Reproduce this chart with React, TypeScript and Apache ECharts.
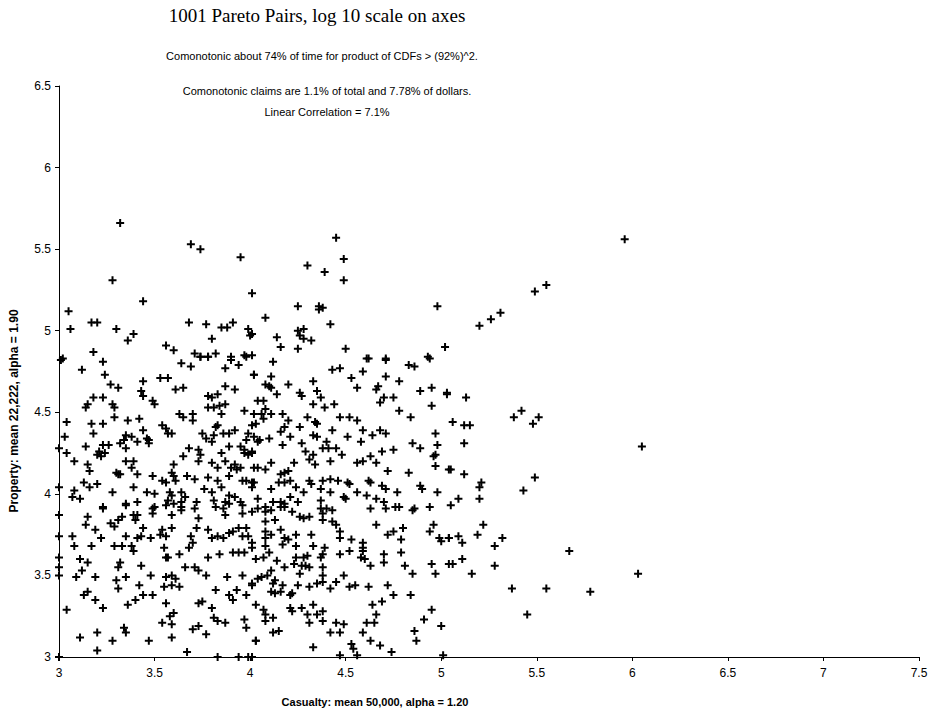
import React, { useEffect, useRef } from "react";
import * as echarts from "echarts";

// Casualty (x) vs Property (y), log10 values
const upperPoints: number[][] = [
  [3.32,5.66],[3.69,5.53],[3.74,5.50],[3.95,5.45],[3.28,5.31],[4.01,5.23],[3.44,5.18],[3.05,5.12],[3.06,5.01],[3.17,5.05],[3.20,5.05],[3.30,5.01],[3.36,4.94],[3.39,4.98],[3.68,5.05],[3.77,5.04],[3.85,5.02],[3.88,5.02],[3.91,5.05],[3.80,4.95],[3.99,5.01],[4.00,4.97],[4.01,4.98],[3.56,4.91],[3.60,4.88],[3.18,4.87],[3.02,4.83],[3.71,4.86],[3.74,4.84],[3.78,4.84],[3.82,4.86],[3.90,4.84],[3.97,4.85],[4.01,4.85],
  [4.45,5.57],[4.49,5.44],[4.30,5.40],[4.39,5.36],[4.49,5.31],[4.25,5.15],[4.36,5.15],[4.38,5.14],[4.36,5.13],[4.98,5.15],[4.08,5.08],[4.42,5.04],[4.25,5.00],[4.28,5.01],[4.26,4.97],[4.28,4.95],[4.32,4.94],[4.14,4.96],[4.16,4.90],[4.25,4.89],[4.50,4.89],[4.62,4.83],[4.71,4.83],[4.93,4.84],[5.02,4.90],
  [5.96,5.56],[5.55,5.28],[5.49,5.24],[5.31,5.11],[5.26,5.07],[5.20,5.03]
];

const rightPoints: number[][] = [
  [5.03,4.61],[5.13,4.59],[5.06,4.44],[5.12,4.42],[5.15,4.42],[5.38,4.47],[5.42,4.51],[5.48,4.43],[5.51,4.47],[5.12,4.31],[6.05,4.29],[5.05,4.15],[5.12,4.12],[5.21,4.07],[5.20,4.04],[5.49,4.10],[5.43,4.02],[5.09,3.97],[5.05,3.93],[5.20,3.97],
  [5.22,3.81],[5.19,3.75],[5.04,3.73],[5.09,3.74],[5.11,3.70],[5.32,3.73],[5.28,3.68],[5.06,3.57],[5.11,3.60],[5.28,3.56],[5.16,3.51],[5.67,3.65],[6.03,3.51],[5.37,3.42],[5.55,3.42],[5.78,3.40],[5.45,3.26]
];

const midLeftPoints: number[][] = [
  [3.01,4.82],[3.23,4.81],[3.64,4.80],[3.69,4.78],[3.74,4.84],[3.78,4.84],[3.90,4.82],[3.94,4.79],[3.98,4.84],[4.02,4.73],[3.87,4.77],[3.12,4.76],[3.24,4.73],[3.44,4.69],[3.53,4.71],[3.57,4.71],[3.27,4.67],[3.31,4.65],[3.61,4.64],[3.65,4.65],[3.87,4.66],[3.92,4.64],
  [3.18,4.59],[3.23,4.59],[3.43,4.63],[3.44,4.60],[3.49,4.57],[3.50,4.55],[3.78,4.60],[3.80,4.59],[3.83,4.61],[3.28,4.55],[3.29,4.53],[3.15,4.55],[3.14,4.53],[3.78,4.53],[3.81,4.53],[3.84,4.54],[3.87,4.55],[3.85,4.49],[3.97,4.51],[3.29,4.47],[3.63,4.49],[3.65,4.47],[3.70,4.49],[3.70,4.45],
  [3.04,4.44],[3.17,4.43],[3.23,4.43],[3.36,4.45],[3.42,4.46],[3.44,4.39],[3.54,4.42],[3.56,4.40],[3.57,4.37],[3.59,4.37],[3.82,4.41],[3.83,4.42],[3.86,4.37],[3.89,4.37],[3.92,4.39],[4.01,4.42],[3.81,4.36],
  [3.18,4.37],[3.03,4.35],[3.35,4.36],[3.38,4.35],[3.34,4.33],[3.32,4.31],[3.35,4.28],[3.41,4.32],[3.46,4.34],[3.47,4.33],[3.47,4.31],[3.75,4.37],[3.77,4.34],[3.80,4.32],[3.99,4.37],[3.98,4.33],[3.95,4.29],[3.97,4.27],[3.97,4.25],[4.01,4.26],
  [3.00,4.28],[3.04,4.25],[3.14,4.29],[3.21,4.26],[3.23,4.30],[3.26,4.30],[3.24,4.25],[3.20,4.24],[3.22,4.23],[3.68,4.28],[3.73,4.27],[3.74,4.24],[3.73,4.20],[3.65,4.23],[3.85,4.25],[3.89,4.29],
  [3.08,4.20],[3.15,4.18],[3.16,4.14],[3.35,4.20],[3.39,4.20],[3.38,4.16],[3.41,4.12],[3.60,4.18],[3.59,4.13],[3.60,4.11],[3.80,4.19],[3.83,4.16],[3.87,4.20],[3.90,4.16],[3.92,4.18],[3.95,4.16],[3.93,4.15],[4.02,4.16],[3.99,4.24],
  [3.30,4.13],[3.31,4.12],[3.32,4.12],[3.49,4.11],[3.54,4.08],[3.56,4.07],[3.61,4.08],[3.67,4.11],[3.71,4.09],[3.78,4.10],[3.83,4.08],[3.89,4.11],[3.96,4.08],[3.98,4.08],[4.01,4.07],
  [3.00,4.04],[3.08,4.02],[3.13,4.07],[3.16,4.04],[3.20,4.06],[3.28,4.01],[3.39,4.04],[3.46,4.01],[3.50,4.00],[3.58,4.01],[3.59,3.99],[3.64,4.01],[3.66,3.98],[3.76,4.03],[3.80,4.01],[3.85,4.04],[3.89,3.99],[3.92,3.98],
  [3.07,3.98],[3.11,3.97],[3.23,3.92],[3.35,3.94],[3.41,3.95],[3.49,3.91],[3.57,3.96],[3.60,3.94],[3.64,3.95],[3.64,3.92],[3.72,3.95],[3.81,3.96],[3.87,3.95],[3.89,3.94],[3.95,3.95],[3.96,3.93],[3.86,3.91]
];

const midRightPoints: number[][] = [
  [4.02,4.73],[4.12,4.81],[4.08,4.67],[4.10,4.66],[4.11,4.72],[4.11,4.65],[4.20,4.67],[4.26,4.62],[4.27,4.60],[4.14,4.61],[4.33,4.69],[4.35,4.63],[4.37,4.59],[4.33,4.55],[4.39,4.53],[4.44,4.55],[4.43,4.76],[4.47,4.77],[4.59,4.75],[4.53,4.71],[4.56,4.65],[4.61,4.83],[4.71,4.82],[4.83,4.79],[4.86,4.78],[4.94,4.83],[4.71,4.72],[4.67,4.66],[4.66,4.64],[4.70,4.59],[4.68,4.56],[4.75,4.59],[4.78,4.69],[4.89,4.63],[4.95,4.65],[5.03,4.62],[4.95,4.54],[4.78,4.51],[4.84,4.47],
  [4.04,4.57],[4.07,4.57],[4.08,4.52],[4.02,4.49],[4.06,4.49],[4.07,4.46],[4.11,4.49],[4.03,4.43],[4.17,4.49],[4.20,4.45],[4.18,4.41],[4.26,4.41],[4.30,4.47],[4.34,4.44],[4.35,4.43],[4.16,4.38],[4.21,4.35],[4.33,4.36],[4.35,4.35],[4.43,4.39],[4.47,4.47],[4.52,4.47],[4.56,4.45],[4.59,4.39],[4.64,4.36],[4.68,4.39],[4.71,4.37],[4.51,4.35],
  [4.02,4.35],[4.05,4.33],[4.04,4.32],[4.10,4.34],[4.17,4.30],[4.27,4.31],[4.40,4.32],[4.41,4.28],[4.38,4.28],[4.45,4.28],[4.48,4.24],[4.29,4.26],[4.58,4.32],[4.59,4.20],[4.56,4.19],[4.63,4.23],[4.66,4.19],[4.69,4.26],[4.75,4.27],[4.72,4.14],[4.85,4.31],[4.89,4.28],[4.97,4.37],[4.98,4.30],[4.97,4.24],[4.96,4.23],[4.97,4.17],
  [4.01,4.25],[4.04,4.16],[4.08,4.15],[4.11,4.19],[4.16,4.12],[4.18,4.13],[4.20,4.14],[4.23,4.19],[4.31,4.21],[4.33,4.24],[4.34,4.18],[4.42,4.20],
  [4.02,4.07],[4.01,4.04],[4.15,4.07],[4.18,4.07],[4.21,4.08],[4.24,4.04],[4.28,4.01],[4.31,4.08],[4.32,4.06],[4.37,4.03],[4.38,4.08],[4.42,4.09],[4.46,4.08],[4.51,4.07],[4.52,4.06],[4.63,4.07],[4.62,4.08],[4.69,4.05],[4.71,4.03],[4.77,4.01],[4.83,4.13],[4.89,4.05],[4.90,4.03],[4.98,4.01],[4.11,4.03],
  [4.04,3.97],[4.08,3.92],[4.12,3.95],[4.16,3.95],[4.18,3.94],[4.21,3.98],[4.25,3.95],[4.37,3.96],[4.42,4.01],[4.49,3.98],[4.50,3.97],[4.56,4.01],[4.61,3.99],[4.66,3.97],[4.70,3.95],[4.78,3.92],[4.86,3.91],[4.94,3.92],[5.04,4.15]
];

const lowLeftPoints: number[][] = [
  [3.00,3.87],[3.00,3.74],[3.00,3.61],[3.00,3.55],[3.00,3.50],[3.00,3.00],
  [3.15,3.86],[3.14,3.81],[3.19,3.78],[3.23,3.91],[3.27,3.82],[3.29,3.80],[3.31,3.84],[3.33,3.86],[3.35,3.93],[3.39,3.87],[3.40,3.84],[3.44,3.79],[3.41,3.87],[3.49,3.88],[3.50,3.92],[3.56,3.93],[3.59,3.87],[3.64,3.90],[3.71,3.91],[3.73,3.85],[3.72,3.79],[3.82,3.92],[3.87,3.87],[3.96,3.88],[3.94,3.79],[4.01,3.89],
  [3.07,3.74],[3.08,3.68],[3.17,3.68],[3.22,3.73],[3.29,3.68],[3.33,3.68],[3.35,3.74],[3.38,3.68],[3.39,3.65],[3.41,3.73],[3.43,3.74],[3.48,3.73],[3.54,3.78],[3.53,3.75],[3.56,3.74],[3.55,3.67],[3.59,3.79],[3.69,3.74],[3.70,3.70],[3.68,3.67],[3.78,3.78],[3.80,3.73],[3.83,3.74],[3.86,3.73],[3.89,3.76],[3.91,3.77],[3.96,3.74],[3.99,3.74],[3.98,3.79],[4.01,3.67],
  [3.11,3.60],[3.12,3.53],[3.15,3.58],[3.19,3.49],[3.09,3.49],[3.31,3.55],[3.32,3.58],[3.35,3.49],[3.30,3.47],[3.31,3.42],[3.43,3.56],[3.48,3.50],[3.56,3.61],[3.57,3.61],[3.63,3.63],[3.56,3.49],[3.59,3.50],[3.61,3.48],[3.55,3.43],[3.59,3.44],[3.63,3.43],[3.66,3.55],[3.71,3.55],[3.73,3.53],[3.77,3.50],[3.78,3.61],[3.84,3.63],[3.91,3.64],[3.94,3.64],[3.97,3.64],[3.88,3.49],[3.96,3.50],[4.01,3.44],
  [3.13,3.38],[3.15,3.40],[3.19,3.35],[3.23,3.30],[3.04,3.29],[3.36,3.32],[3.40,3.35],[3.42,3.44],[3.44,3.38],[3.49,3.38],[3.56,3.33],[3.60,3.27],[3.58,3.25],[3.54,3.21],[3.59,3.20],[3.73,3.33],[3.75,3.34],[3.80,3.30],[3.81,3.24],[3.83,3.22],[3.87,3.21],[3.82,3.41],[3.89,3.38],[3.91,3.35],[3.93,3.41],[3.98,3.38],[3.97,3.23],[3.98,3.18],[4.03,3.10],
  [3.11,3.12],[3.20,3.15],[3.20,3.04],[3.28,3.10],[3.34,3.18],[3.35,3.15],[3.47,3.10],[3.59,3.12],[3.67,3.03],[3.70,3.17],[3.73,3.19],[3.77,3.14],[3.83,3.00],[3.94,3.00],[3.99,3.00]
];

const lowRightPoints: number[][] = [
  [4.04,3.91],[4.08,3.89],[4.11,3.90],[4.16,3.92],[4.18,3.92],[4.22,3.89],[4.26,3.86],[4.28,3.85],[4.31,3.86],[4.37,3.91],[4.40,3.91],[4.43,3.90],[4.38,3.88],[4.38,3.84],[4.43,3.83],[4.45,3.81],[4.63,3.91],[4.71,3.91],[4.76,3.92],[4.85,3.90],[4.66,3.81],[4.72,3.75],[4.75,3.77],[4.80,3.79],[4.96,3.81],[4.94,3.77],[4.99,3.73],[5.00,3.71],[5.04,3.73],
  [4.08,3.83],[4.13,3.84],[4.08,3.77],[4.11,3.75],[4.16,3.78],[4.18,3.73],[4.20,3.72],[4.24,3.75],[4.24,3.68],[4.32,3.75],[4.33,3.68],[4.08,3.73],[4.08,3.68],[4.01,3.70],[4.17,3.69],[4.47,3.77],[4.47,3.73],[4.53,3.72],[4.59,3.70],[4.59,3.67],[4.59,3.65],[4.58,3.61],[4.60,3.60],[4.52,3.65],[4.47,3.63],[4.39,3.67],[4.38,3.63],[4.37,3.61],[4.30,3.62],[4.28,3.61],[4.24,3.61],[4.23,3.57],[4.27,3.56],[4.29,3.56],[4.31,3.55],[4.38,3.55],[4.70,3.63],[4.79,3.72],[4.79,3.64],[4.70,3.58],[4.81,3.56],[4.85,3.51],[4.95,3.57],[4.97,3.51],[4.63,3.56],[5.04,3.57],
  [4.03,3.60],[4.07,3.61],[4.10,3.64],[4.14,3.59],[4.18,3.55],[4.11,3.53],[4.09,3.50],[4.06,3.49],[4.04,3.48],[4.01,3.45],[4.13,3.47],[4.12,3.45],[4.17,3.44],[4.25,3.44],[4.26,3.51],[4.31,3.43],[4.35,3.45],[4.38,3.50],[4.38,3.46],[4.42,3.42],[4.45,3.46],[4.49,3.50],[4.52,3.43],[4.55,3.44],[4.62,3.43],[4.72,3.44],[4.75,3.38],[4.84,3.38],
  [4.11,3.40],[4.13,3.39],[4.16,3.40],[4.21,3.38],[4.22,3.39],[4.03,3.32],[4.07,3.29],[4.08,3.26],[4.08,3.22],[4.12,3.24],[4.21,3.30],[4.22,3.28],[4.27,3.30],[4.30,3.26],[4.33,3.32],[4.35,3.26],[4.38,3.28],[4.38,3.22],[4.31,3.21],[4.45,3.21],[4.49,3.20],[4.47,3.15],[4.42,3.15],[4.61,3.21],[4.65,3.21],[4.66,3.26],[4.64,3.32],[4.69,3.34],[4.95,3.29],[4.91,3.23],[5.00,3.19],[4.86,3.16],[4.87,3.10],
  [4.59,3.15],[4.63,3.10],[4.68,3.07],[4.74,3.03],[4.53,3.08],[4.54,3.05],[4.56,3.01],[4.33,3.06],[4.12,3.15],[4.15,3.16],[4.03,3.10],[4.01,3.00],[4.47,3.01],[5.01,3.01]
];

const xTicks = [3, 3.5, 4, 4.5, 5, 5.5, 6, 6.5, 7, 7.5];
const yTicks = [3, 3.5, 4, 4.5, 5, 5.5, 6, 6.5];

const titleText = "1001 Pareto Pairs, log 10 scale on axes";
const noteLines = [
  "Comonotonic about 74% of time for product of CDFs > (92%)^2.",
  "Comonotonic claims are 1.1% of total and 7.78% of dollars.",
  "Linear Correlation = 7.1%",
];
const xTitle = "Casualty: mean 50,000, alpha = 1.20";
const yTitle = "Property: mean 22,222, alpha = 1.90";

const PLUS = "path://M3,0 L5,0 L5,3 L8,3 L8,5 L5,5 L5,8 L3,8 L3,5 L0,5 L0,3 L3,3 Z";
const SANS = "'Liberation Sans', Arial, sans-serif";
const SERIF = "'Liberation Serif', 'Times New Roman', serif";

export default function App() {
  const ref = useRef<HTMLDivElement>(null);
  useEffect(() => {
    if (!ref.current) return;
    const chart = echarts.init(ref.current, null, { renderer: "svg" });
    const data = [
      ...upperPoints,
      ...rightPoints,
      ...midLeftPoints,
      ...midRightPoints,
      ...lowLeftPoints,
      ...lowRightPoints,
    ];
    const axisLabelStyle = { color: "#000", fontFamily: SANS, fontSize: 12 };
    chart.setOption({
      animation: false,
      backgroundColor: "#fff",
      grid: { left: 59, right: 21, top: 86, bottom: 59, containLabel: false },
      xAxis: {
        type: "value",
        min: xTicks[0],
        max: xTicks[xTicks.length - 1],
        interval: 0.5,
        splitLine: { show: false },
        axisLine: { show: true, onZero: false, lineStyle: { color: "#000", width: 1 } },
        axisTick: { show: true, length: 4, lineStyle: { color: "#000" } },
        axisLabel: { ...axisLabelStyle, margin: 10, formatter: (v: number) => String(v) },
      },
      yAxis: {
        type: "value",
        min: yTicks[0],
        max: yTicks[yTicks.length - 1],
        interval: 0.5,
        splitLine: { show: false },
        axisLine: { show: true, onZero: false, lineStyle: { color: "#000", width: 1 } },
        axisTick: { show: true, length: 4, lineStyle: { color: "#000" } },
        axisLabel: { ...axisLabelStyle, margin: 8, formatter: (v: number) => String(v) },
      },
      series: [
        {
          type: "scatter",
          data,
          symbol: PLUS,
          symbolSize: 8,
          itemStyle: { color: "#000", opacity: 1 },
        },
      ],
      graphic: [
        {
          type: "text",
          x: 317,
          y: 15,
          style: { text: titleText, font: `19px ${SERIF}`, fill: "#000", align: "center", verticalAlign: "middle" },
        },
        {
          type: "text",
          x: 322,
          y: 56,
          style: { text: noteLines[0], font: `11px ${SANS}`, fill: "#000", align: "center", verticalAlign: "middle" },
        },
        {
          type: "text",
          x: 327,
          y: 91,
          style: { text: noteLines[1], font: `11px ${SANS}`, fill: "#000", align: "center", verticalAlign: "middle" },
        },
        {
          type: "text",
          x: 327,
          y: 112,
          style: { text: noteLines[2], font: `11px ${SANS}`, fill: "#000", align: "center", verticalAlign: "middle" },
        },
        {
          type: "text",
          x: 375,
          y: 702,
          style: { text: xTitle, font: `bold 11px ${SANS}`, fill: "#000", align: "center", verticalAlign: "middle" },
        },
        {
          type: "text",
          x: 14,
          y: 411,
          rotation: Math.PI / 2,
          style: { text: yTitle, font: `bold 12px ${SANS}`, fill: "#000", align: "center", verticalAlign: "middle" },
        },
      ],
    });
    return () => chart.dispose();
  }, []);
  return (
    <div
      ref={ref}
      style={{ position: "fixed", left: 0, top: 0, width: 940, height: 716, background: "#fff" }}
    />
  );
}
